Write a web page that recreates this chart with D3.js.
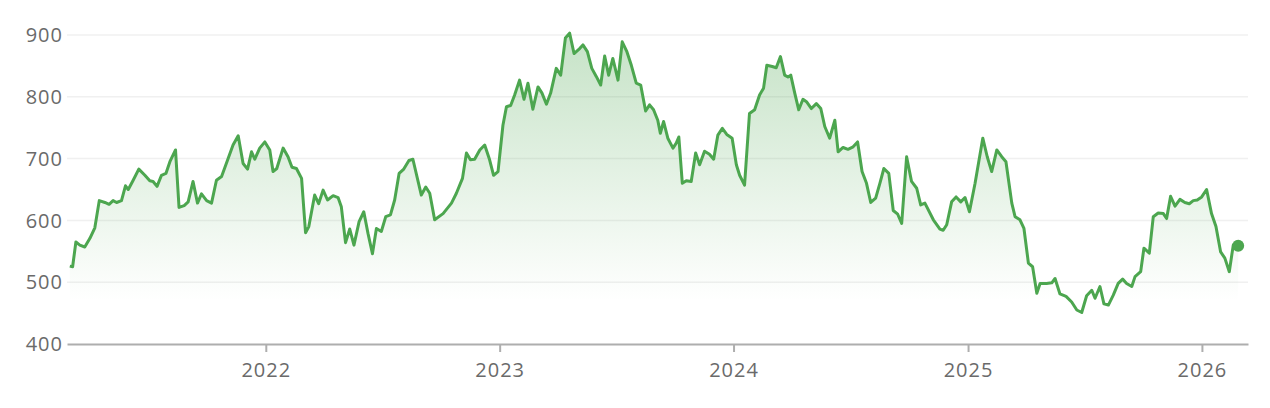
<!DOCTYPE html>
<html><head><meta charset="utf-8">
<script src="https://cdn.jsdelivr.net/npm/d3@7/dist/d3.min.js"></script>
<style>html,body{margin:0;padding:0;background:#fff;}svg{display:block;}</style>
</head><body>
<svg id="chart" width="1270" height="408"></svg>
<script>
// time as decimal years
const years = [
2021.162,2021.174,2021.188,2021.205,2021.226,2021.248,2021.269,2021.288,2021.312,2021.330,
2021.347,2021.362,2021.383,2021.400,2021.412,2021.433,2021.457,2021.483,2021.504,2021.518,
2021.535,2021.554,2021.573,2021.590,2021.614,2021.629,2021.651,2021.668,2021.689,2021.708,
2021.725,2021.747,2021.768,2021.789,2021.811,2021.839,2021.860,2021.882,2021.903,2021.922,
2021.939,2021.953,2021.974,2021.996,2022.017,2022.031,2022.047,2022.074,2022.095,2022.112,
2022.131,2022.153,2022.170,2022.184,2022.209,2022.226,2022.245,2022.264,2022.288,2022.309,
2022.323,2022.341,2022.359,2022.377,2022.399,2022.419,2022.437,2022.456,2022.473,2022.494,
2022.513,2022.533,2022.551,2022.570,2022.590,2022.612,2022.629,2022.665,2022.684,2022.701,
2022.722,2022.758,2022.794,2022.815,2022.841,2022.858,2022.875,2022.893,2022.915,2022.936,
2022.957,2022.974,2022.993,2023.014,2023.029,2023.047,2023.064,2023.085,2023.104,2023.121,
2023.142,2023.164,2023.181,2023.200,2023.218,2023.242,2023.261,2023.281,2023.299,2023.318,
2023.342,2023.356,2023.375,2023.394,2023.413,2023.432,2023.449,2023.466,2023.484,2023.506,
2023.524,2023.544,2023.563,2023.584,2023.603,2023.624,2023.641,2023.658,2023.676,2023.687,
2023.701,2023.719,2023.741,2023.755,2023.766,2023.781,2023.798,2023.819,2023.838,2023.855,
2023.876,2023.897,2023.915,2023.933,2023.952,2023.971,2023.994,2024.012,2024.026,2024.047,
2024.068,2024.090,2024.111,2024.128,2024.142,2024.165,2024.182,2024.200,2024.218,2024.232,
2024.244,2024.261,2024.278,2024.296,2024.311,2024.332,2024.353,2024.372,2024.389,2024.410,
2024.432,2024.446,2024.467,2024.488,2024.510,2024.529,2024.548,2024.567,2024.585,2024.606,
2024.624,2024.641,2024.662,2024.681,2024.700,2024.717,2024.738,2024.759,2024.781,2024.798,
2024.816,2024.852,2024.880,2024.894,2024.909,2024.930,2024.949,2024.969,2024.987,2025.006,
2025.030,2025.063,2025.082,2025.101,2025.123,2025.144,2025.162,2025.187,2025.201,2025.222,
2025.239,2025.258,2025.276,2025.294,2025.308,2025.336,2025.358,2025.372,2025.393,2025.419,
2025.443,2025.465,2025.486,2025.507,2025.529,2025.543,2025.564,2025.581,2025.600,2025.621,
2025.642,2025.661,2025.678,2025.700,2025.714,2025.738,2025.752,2025.775,2025.792,2025.813,
2025.835,2025.849,2025.866,2025.885,2025.906,2025.927,2025.946,2025.963,2025.980,2025.999,
2026.020,2026.041,2026.060,2026.080,2026.098,2026.117,2026.134,2026.155
];
const prices = [
526,525,565,560,557,571,588,632,629,626,
632,629,632,656,650,665,683,673,664,663,
655,673,676,695,714,621,624,630,663,628,
643,632,628,665,671,700,722,737,692,683,
711,699,717,727,714,679,684,717,703,686,
684,668,580,590,641,627,649,633,640,637,
622,564,586,560,598,614,579,546,587,582,
606,609,633,676,683,697,699,641,654,644,
601,611,628,644,668,709,698,699,714,722,
698,673,679,754,784,786,803,827,796,822,
780,816,806,788,806,846,835,895,903,870,
878,884,873,846,833,819,866,835,862,827,
889,873,851,822,819,777,787,779,762,741,
760,733,717,725,735,660,664,663,709,690,
712,707,699,738,749,739,733,690,673,657,
773,779,803,814,851,849,847,865,835,832,
835,806,779,796,792,781,789,781,752,733,
762,711,718,715,719,727,679,660,629,636,
660,684,676,616,610,595,703,663,652,625,
628,601,586,584,593,630,638,630,637,614,
660,733,703,679,714,703,695,628,606,601,
587,531,525,482,498,498,499,506,481,477,
468,455,451,478,487,474,493,465,463,479,
498,505,498,493,509,517,555,547,606,612,
611,603,639,623,634,629,627,632,633,638,
650,611,590,549,539,517,560,559
];
const yTicks = [400,500,600,700,800,900];
const xTickYears = [2022,2023,2024,2025,2026];
const xDomainYears = [2021.150, 2026.197];

function yearToDate(v){
  const yr = Math.floor(v);
  const start = new Date(yr,0,1), end = new Date(yr+1,0,1);
  return new Date(start.getTime() + (v-yr)*(end-start));
}
const data = years.map((v,i)=>({date:yearToDate(v), value:prices[i]}));

const svg = d3.select("#chart");
const mLeft = 67, mRight = 1248, mTop = 35, mBottom = 344;
const x = d3.scaleTime().domain(xDomainYears.map(yearToDate)).range([mLeft,mRight]);
const y = d3.scaleLinear().domain([400,900]).range([mBottom,mTop]);

const defs = svg.append("defs");
const grad = defs.append("linearGradient").attr("id","fillGrad")
  .attr("gradientUnits","userSpaceOnUse").attr("x1",0).attr("x2",0)
  .attr("y1",y(900)).attr("y2",y(470));
grad.append("stop").attr("offset","0%").attr("stop-color","#4ca64f").attr("stop-opacity",0.32);
grad.append("stop").attr("offset","100%").attr("stop-color","#4ca64f").attr("stop-opacity",0);

const fontFam = "'Open Sans', sans-serif";

// gridlines
svg.append("g").selectAll("line").data(yTicks.filter(t=>t>400)).join("line")
  .attr("x1",mLeft).attr("x2",mRight).attr("y1",d=>y(d)).attr("y2",d=>y(d))
  .attr("stroke","#f0f0f0").attr("stroke-width",1.5);

// y labels
svg.append("g").selectAll("text").data(yTicks).join("text")
  .attr("x",63).attr("y",d=>y(d)).attr("dy","0.36em").attr("text-anchor","end")
  .attr("fill","#6a6a6a").style("font-family",fontFam).style("font-size","20px")
  .style("letter-spacing","1px").text(d=>d);

// area
const area = d3.area().x(d=>x(d.date)).y0(mBottom).y1(d=>y(d.value)).curve(d3.curveLinear);
svg.append("path").datum(data).attr("d",area).attr("fill","url(#fillGrad)");

// x axis
const xAxis = d3.axisBottom(x).tickValues(xTickYears.map(yearToDate))
  .tickFormat(d3.timeFormat("%Y")).tickSize(8).tickSizeOuter(0);
const gx = svg.append("g").attr("transform",`translate(0,${mBottom})`).call(xAxis);
gx.select(".domain").attr("stroke","#aeaeae").attr("stroke-width",2);
gx.selectAll(".tick line").attr("stroke","#aeaeae").attr("stroke-width",2);
gx.selectAll(".tick text").attr("fill","#6a6a6a").attr("dy","0").attr("y",33)
  .style("font-family",fontFam).style("font-size","20px").style("letter-spacing","1px");

// line
const line = d3.line().x(d=>x(d.date)).y(d=>y(d.value));
svg.append("path").datum(data).attr("d",line).attr("fill","none")
  .attr("stroke","#4ca64f").attr("stroke-width",3).attr("stroke-linejoin","round");

// end dot
const last = data[data.length-1];
svg.append("circle").attr("cx",x(last.date)).attr("cy",y(last.value)).attr("r",6).attr("fill","#4ca64f");
</script>
</body></html>
